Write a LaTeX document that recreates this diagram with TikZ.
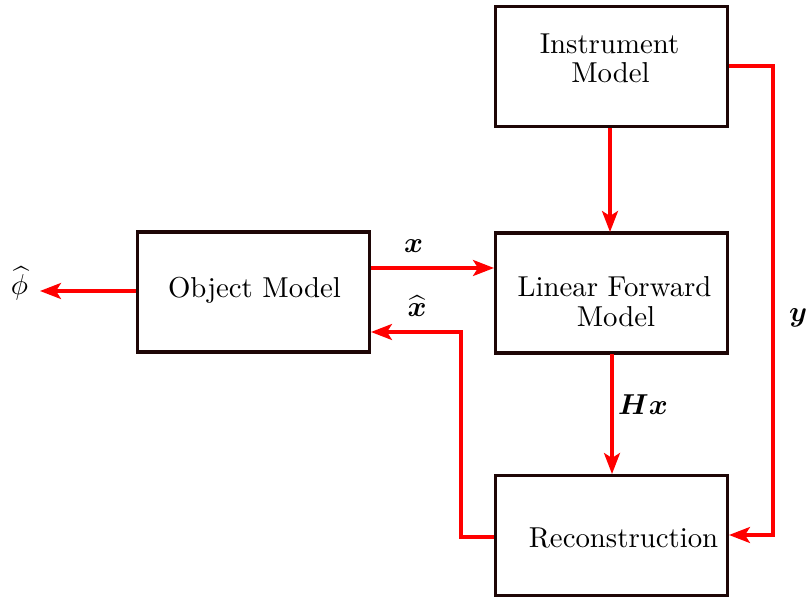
\documentclass[tikz,border=0pt]{standalone}
\usepackage{amsmath,bm,graphicx}
\usetikzlibrary{arrows.meta}
\definecolor{boxcol}{RGB}{30,6,6}
\definecolor{arrcol}{RGB}{255,0,0}
\newcommand\bigtxt[1]{\scalebox{2.88}{#1}}
\begin{document}
\begin{tikzpicture}[x=1pt,y=-1pt,
  box/.style={draw=boxcol,line width=3.2pt,minimum width=232pt,minimum height=120pt,inner sep=0pt},
  lbl/.style={anchor=base,inner sep=0pt},
  conn/.style={draw=arrcol,line width=3.2pt,-{Stealth[length=21pt,width=16pt,inset=5pt]}}]
\useasboundingbox (0,0) rectangle (806,601);
% boxes
\node[box] (instr) at (611.5,66.5) {};
\node[box] (lin) at (611.5,293) {};
\node[box] (rec) at (611.5,535.5) {};
\node[box] (obj) at (253.5,292) {};
% texts
\node[lbl] (t1) at (609.5,54) {\bigtxt{Instrument}};
\node[lbl] (t2) at (610.5,83) {\bigtxt{Model}};
\node[lbl] (t3) at (614.5,297) {\bigtxt{Linear Forward}};
\node[lbl] (t4) at (616,326.5) {\bigtxt{Model}};
\node[lbl] (t5) at (623.5,547) {\bigtxt{Reconstruction}};
\node[lbl] (t6) at (254.5,298) {\bigtxt{Object Model}};
% coordinates
\coordinate (phiend) at (40,291);
\coordinate (xa) at (371,268);
\coordinate (xb) at (494,268);
\coordinate (ha) at (494,537);
\coordinate (hb) at (461,537);
\coordinate (hc) at (461,332);
\coordinate (hd) at (371,332);
\coordinate (ia) at (610,128);
\coordinate (ib) at (610,232);
\coordinate (la) at (612,354);
\coordinate (lb) at (612,474);
\coordinate (ya) at (729,66);
\coordinate (yb) at (773,66);
\coordinate (yc) at (773,535);
\coordinate (yd) at (729,535);
\coordinate (oa) at (136,291);
% connectors
\draw[conn] (oa) -- (phiend);
\draw[conn] (xa) -- (xb);
\draw[conn] (ha) -- (hb) -- (hc) -- (hd);
\draw[conn] (ia) -- (ib);
\draw[conn] (la) -- (lb);
\draw[conn] (ya) -- (yb) -- (yc) -- (yd);
% math labels
\node[lbl] (phi) at (19.5,295) {\bigtxt{$\widehat{\phi}$}};
\node[lbl] (xl) at (413.5,253) {\bigtxt{$\boldsymbol{x}$}};
\node[lbl] (xh) at (417,317) {\bigtxt{$\widehat{\boldsymbol{x}}$}};
\node[lbl] (hx) at (643,415) {\bigtxt{$\boldsymbol{Hx}$}};
\node[lbl,anchor=base west] (yl) at (789,322) {\bigtxt{$\boldsymbol{y}$}};
\end{tikzpicture}
\end{document}
